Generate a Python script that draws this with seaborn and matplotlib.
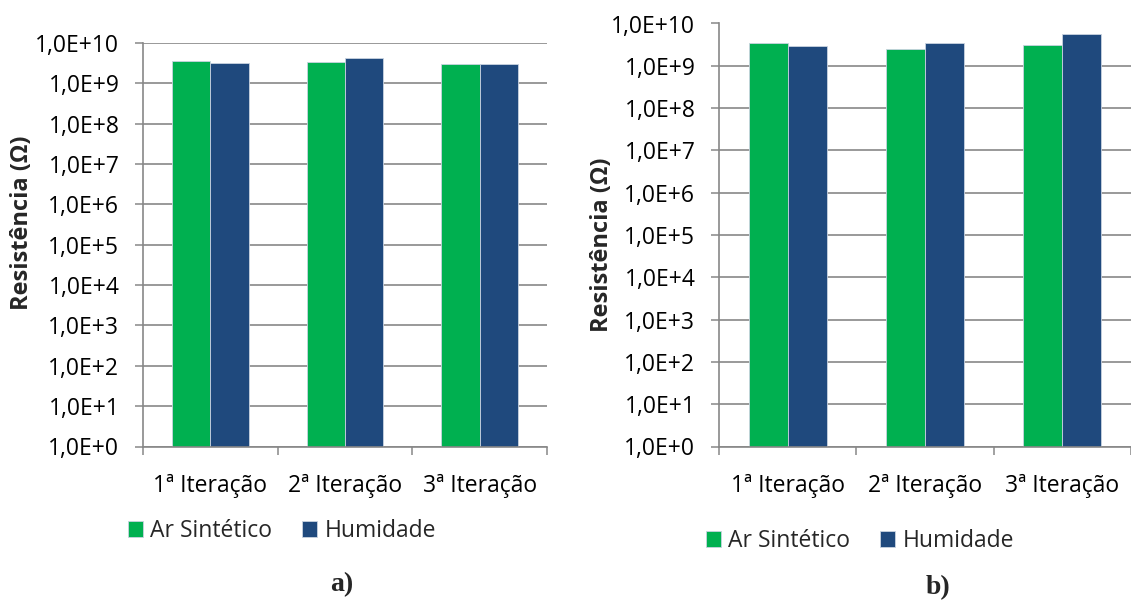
import numpy as np
import pandas as pd
import matplotlib
matplotlib.use("Agg")
import matplotlib.pyplot as plt
import seaborn as sns

# Data
iteracoes = ["1ª Iteração", "2ª Iteração", "3ª Iteração"]
series = ["Ar Sintético", "Humidade"]
ar_sintetico_a = [3.5e9, 3.45e9, 3.1e9]
humidade_a = [3.2e9, 4.2e9, 3.1e9]
ar_sintetico_b = [3.4e9, 2.45e9, 3.1e9]
humidade_b = [3.0e9, 3.4e9, 5.6e9]
decadas = list(range(0, 11))
rotulos_y = [f"1,0E+{d}" for d in decadas]

VERDE = "#00B050"
AZUL = "#1F497D"
CINZA = "#878787"

sns.set_theme(style="white")
plt.rcParams["font.family"] = ["Open Sans", "DejaVu Sans"]

W, H = 1131, 601
fig = plt.figure(figsize=(W / 100, H / 100), dpi=100)


def frame(ar, hum):
    return pd.DataFrame({
        "iteracao": iteracoes * 2,
        "serie": [series[0]] * 3 + [series[1]] * 3,
        "valor": list(ar) + list(hum),
    })


def painel(rect, ar, hum, xmax, ylabel_xy, legend_xy, caption, caption_xy):
    ax = fig.add_axes(rect)
    ax.set_yscale("log")
    sns.barplot(data=frame(ar, hum), x="iteracao", y="valor", hue="serie",
                palette=[VERDE, AZUL], saturation=1, width=0.57, ax=ax,
                edgecolor="#c9d3e0", linewidth=0.6, errorbar=None)
    handles, labels = ax.get_legend_handles_labels()
    ax.get_legend().remove()

    ax.set_ylim(1, 1e10)
    ax.set_xlim(-0.5, xmax)
    ax.set_yticks([10.0 ** d for d in decadas])
    ax.set_yticklabels(rotulos_y)
    ax.yaxis.set_minor_locator(matplotlib.ticker.NullLocator())
    ax.set_xticks(range(3))
    ax.set_xticklabels(iteracoes)
    ax.set_xticks([-0.5, 0.5, 1.5, 2.5], minor=True)

    ax.tick_params(axis="y", which="major", direction="out", length=6, width=1.1,
                   color=CINZA, labelsize=16.5, labelcolor="#000000", pad=11, left=True)
    ax.tick_params(axis="x", which="major", length=0, labelsize=16.5,
                   labelcolor="#000000", pad=20)
    ax.tick_params(axis="x", which="minor", direction="out", length=6, width=1.1,
                   color=CINZA, bottom=True)

    ax.grid(axis="y", color=CINZA, linewidth=1.2)
    ax.grid(axis="x", visible=False)
    ax.set_axisbelow(True)
    for s in ["top", "right"]:
        ax.spines[s].set_visible(False)
    for s in ["left", "bottom"]:
        ax.spines[s].set_color(CINZA)
        ax.spines[s].set_linewidth(1.2)

    ax.set_xlabel("")
    ax.set_ylabel("")
    fig.text(ylabel_xy[0] / W, 1 - ylabel_xy[1] / H, "Resistência (Ω)", rotation=90,
             ha="center", va="center", fontsize=17, fontweight="bold")

    fig.legend(handles, labels, loc="center left",
               bbox_to_anchor=(legend_xy[0] / W, 1 - legend_xy[1] / H),
               frameon=False, ncol=2, fontsize=16.5, handlelength=0.66,
               handleheight=0.66, handletextpad=0.32, columnspacing=1.3,
               borderaxespad=0, borderpad=0)

    fig.text(caption_xy[0] / W, 1 - caption_xy[1] / H, caption, ha="center",
             va="center", fontsize=20, fontweight="bold",
             family=["Liberation Serif", "DejaVu Serif"])
    return ax


# Panel a)
painel([143 / W, 1 - 446.5 / H, (547 - 143) / W, (446.5 - 43) / H],
       ar_sintetico_a, humidade_a, 2.5, (22, 223), (128, 531), "a)", (342, 585))

# Panel b) - axis runs past the right edge of the figure
painel([719 / W, 1 - 446.5 / H, (W - 719) / W, (446.5 - 23.5) / H],
       ar_sintetico_b, humidade_b, -0.5 + (W - 719) / 139, (602, 245),
       (706, 541), "b)", (938, 588))

fig.savefig("out.png", dpi=100)
